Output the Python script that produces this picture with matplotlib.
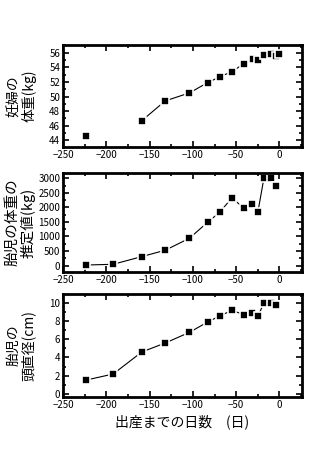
import matplotlib
matplotlib.use("Agg")
import matplotlib.pyplot as plt
from matplotlib.ticker import MultipleLocator

plt.rcParams['font.family'] = ['Noto Sans CJK JP', 'DejaVu Sans']

# days before birth
days_mother = [-223, -159, -132, -104, -83, -69, -55, -41, -31, -25, -18, -10, -4, 0]
mother_kg = [44.6, 46.7, 49.4, 50.5, 51.9, 52.7, 53.4, 54.5, 55.1, 54.95, 55.7, 55.8, 55.6, 55.8]

days_fetus = [-223, -192, -159, -132, -104, -83, -69, -55, -41, -32, -25, -18, -10, -4]
fetus_weight = [20, 45, 309, 527, 939, 1488, 1832, 2325, 1970, 2107, 1832, 3000, 3000, 2725]
head_cm = [1.53, 2.19, 4.6, 5.58, 6.75, 7.88, 8.54, 9.16, 8.69, 8.9, 8.5, 9.96, 9.96, 9.74]

fig = plt.figure(figsize=(3.17, 4.67), dpi=100)
W, H = 317, 467
boxes = [(45, 147), (173, 272), (294, 397)]
axes = []
for top, bot in boxes:
    axes.append(fig.add_axes([63 / W, 1 - bot / H, (302 - 63) / W, (bot - top) / H]))

def style(ax, ymaj, ymin):
    ax.set_xlim(-250, 26)
    ax.xaxis.set_major_locator(MultipleLocator(50))
    ax.xaxis.set_minor_locator(MultipleLocator(25))
    ax.yaxis.set_major_locator(MultipleLocator(ymaj))
    ax.yaxis.set_minor_locator(MultipleLocator(ymin))
    ax.tick_params(which='both', direction='in', top=True, right=True,
                   labelsize=7, width=1.2, pad=2)
    ax.tick_params(which='major', length=4)
    ax.tick_params(which='minor', length=2)
    for s in ax.spines.values():
        s.set_linewidth(2)

mk = dict(marker='s', ms=5.5, mfc='black', mec='white', mew=1.2, ls='none')
ln = dict(color='black', lw=0.8)

# mother weight
ax = axes[0]
ax.plot(days_mother[1:11], mother_kg[1:11], **ln)
ax.plot(days_mother, mother_kg, **mk)
ax.set_ylim(43.1, 57.05)
style(ax, 2, 1)
ax.set_ylabel('妊婦の\n体重(kg)', fontsize=10, linespacing=1.05)
ax.yaxis.set_label_coords(-0.11, 0.5)

# fetal weight
ax = axes[1]
ax.plot(days_fetus[:12], fetus_weight[:12], **ln)
ax.plot(days_fetus, fetus_weight, **mk)
ax.set_ylim(-220, 3180)
style(ax, 500, 250)
ax.set_ylabel('胎児の体重の\n推定値(kg)', fontsize=10.5, linespacing=1.05)
ax.yaxis.set_label_coords(-0.115, 0.5)

# head diameter
ax = axes[2]
ax.plot(days_fetus[:12], head_cm[:12], **ln)
ax.plot(days_fetus, head_cm, **mk)
ax.set_ylim(-0.33, 10.95)
style(ax, 2, 1)
ax.set_ylabel('胎児の\n頭直径(cm)', fontsize=10, linespacing=1.05)
ax.yaxis.set_label_coords(-0.115, 0.5)
ax.set_xlabel('出産までの日数　(日)', fontsize=10, labelpad=3)

fig.savefig('out.png', dpi=100)
